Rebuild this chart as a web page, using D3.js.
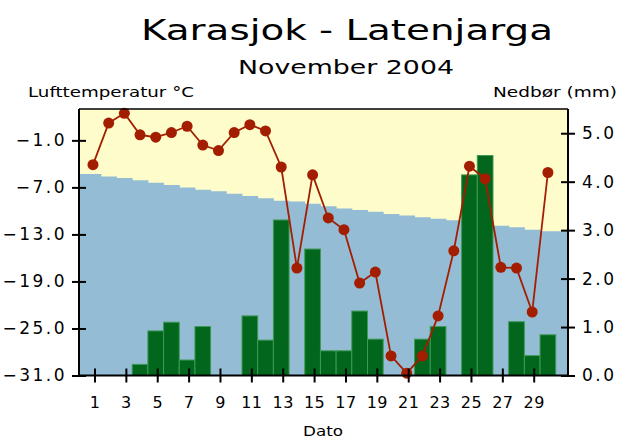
<!DOCTYPE html>
<html>
<head>
<meta charset="utf-8">
<script src="https://cdn.jsdelivr.net/npm/d3@7"></script>
<style>
  body { margin: 0; background: #fff; }
  text { font-family: "DejaVu Sans", Verdana, sans-serif; fill: #000; }
</style>
</head>
<body>
<div id="chart"></div>
<script>
// data
const days = d3.range(1, 31);
const temperature = [-4.1, 1.2, 2.45, -0.3, -0.6, 0.0, 0.8, -1.6, -2.3, 0.0,
                     1.0, 0.2, -4.4, -17.3, -5.4, -10.9, -12.4, -19.2, -17.8, -28.5,
                     -30.7, -28.5, -23.4, -15.1, -4.3, -5.9, -17.2, -17.3, -22.9, -5.1];
const precipitation = [0, 0, 0, 0.23, 0.92, 1.10, 0.32, 1.01, 0, 0,
                       1.23, 0.73, 3.21, 0, 2.61, 0.51, 0.51, 1.33, 0.75, 0,
                       0, 0.75, 1.01, 0, 4.14, 4.54, 0, 1.11, 0.41, 0.84];
const normalTemp = [-5.3, -5.6, -5.8, -6.1, -6.4, -6.7, -7.0, -7.3, -7.5, -7.8,
                    -8.1, -8.4, -8.7, -8.8, -9.1, -9.4, -9.7, -9.9, -10.1, -10.4,
                    -10.6, -10.8, -11.0, -11.2, -11.4, -11.7, -11.9, -12.1, -12.4, -12.6];
const tempTicks = [-31, -25, -19, -13, -7, -1];
const precTicks = [0, 1, 2, 3, 4, 5];
const dayTicks = [1, 3, 5, 7, 9, 11, 13, 15, 17, 19, 21, 23, 25, 27, 29];

const width = 625, height = 438;
const plot = { left: 79, right: 568, top: 109, bottom: 375.5 };

const svg = d3.select("#chart").append("svg").attr("width", width).attr("height", height);

const x = d3.scaleLinear().domain([0, 31.25]).range([77.8, plot.right]);
const yT = d3.scaleLinear().domain([-31, 3]).range([plot.bottom, plot.top]);
const yP = d3.scaleLinear().domain([0, 5.5]).range([plot.bottom, plot.top]);

// background
svg.append("rect")
    .attr("x", plot.left).attr("y", plot.top)
    .attr("width", plot.right - plot.left).attr("height", plot.bottom - plot.top)
    .attr("fill", "#fffccc");

// normal temperature area (stepped)
const normalPts = [[x.domain()[0], normalTemp[0]]]
    .concat(days.map((d, i) => [d, normalTemp[i]]))
    .concat([[x.domain()[1], normalTemp[normalTemp.length - 1]]]);
svg.append("path")
    .datum(normalPts)
    .attr("fill", "#95bcd5")
    .attr("d", d3.area().curve(d3.curveStep)
        .x(d => Math.max(plot.left, x(d[0])))
        .y0(plot.bottom)
        .y1(d => yT(d[1])));

// precipitation bars
const barW = 15.7;
svg.append("g").selectAll("rect")
    .data(days.map((d, i) => ({ day: d, v: precipitation[i] })).filter(d => d.v > 0))
    .join("rect")
    .attr("x", d => x(d.day) - barW / 2 - 0.5)
    .attr("y", d => yP(d.v))
    .attr("width", barW)
    .attr("height", d => plot.bottom - yP(d.v))
    .attr("fill", "#02661c")
    .attr("stroke", "#3f9a55")
    .attr("stroke-width", 1);

// temperature line
const tData = days.map((d, i) => ({ day: d, v: temperature[i] }));
svg.append("path")
    .datum(tData)
    .attr("fill", "none")
    .attr("stroke", "#a31e00")
    .attr("stroke-width", 1.8)
    .attr("d", d3.line().x(d => x(d.day) - 0.5).y(d => yT(d.v)));
svg.append("g").selectAll("circle")
    .data(tData)
    .join("circle")
    .attr("cx", d => x(d.day) - 0.5)
    .attr("cy", d => yT(d.v))
    .attr("r", 5.5)
    .attr("fill", "#a31e00");

// frame
svg.append("path")
    .attr("d", `M${plot.left},${plot.top}H${plot.right}`)
    .attr("stroke", "#000").attr("stroke-width", 1.5);

// axes
const leftAxis = svg.append("g")
    .attr("transform", `translate(${plot.left},0)`)
    .call(d3.axisLeft(yT).tickValues(tempTicks).tickFormat(d3.format(".1f")).tickSize(7).tickPadding(7));
const rightAxis = svg.append("g")
    .attr("transform", `translate(${plot.right},0)`)
    .call(d3.axisRight(yP).tickValues(precTicks).tickFormat(d3.format(".1f")).tickSize(7).tickPadding(7));
const bottomAxis = svg.append("g")
    .attr("transform", `translate(0,${plot.bottom})`)
    .call(d3.axisBottom(x).tickValues(dayTicks).tickFormat(d3.format("d")).tickSize(7).tickPadding(14));

[leftAxis, rightAxis, bottomAxis].forEach(g => {
    g.select(".domain").attr("stroke", "#000").attr("stroke-width", 2);
    g.selectAll(".tick line").attr("stroke", "#000").attr("stroke-width", 2);
    g.selectAll(".tick text").attr("fill", "#000");
});
leftAxis.select(".domain").attr("d", `M0,${plot.top}V${plot.bottom}`);
rightAxis.select(".domain").attr("d", `M0,${plot.top}V${plot.bottom}`);
bottomAxis.select(".domain").attr("d", `M${plot.left},0H${plot.right}`);
leftAxis.selectAll(".tick line").attr("x1", 7);
rightAxis.selectAll(".tick line").attr("x1", -7);
bottomAxis.selectAll(".tick line").attr("y1", -7).attr("transform", "translate(1,0)");
leftAxis.selectAll(".tick text").style("font-size", "17px").style("letter-spacing", "2.5px").attr("dx", 2);
rightAxis.selectAll(".tick text").style("font-size", "17px").style("letter-spacing", "2.5px");
bottomAxis.selectAll(".tick text").style("font-size", "16px").style("letter-spacing", "0.5px").attr("dx", 1);

// titles
svg.append("text").attr("x", 347).attr("y", 40).attr("text-anchor", "middle")
    .style("font-size", "28px").attr("textLength", 412).attr("lengthAdjust", "spacingAndGlyphs")
    .text("Karasjok - Latenjarga");
svg.append("text").attr("x", 346).attr("y", 74).attr("text-anchor", "middle")
    .style("font-size", "20px").attr("textLength", 216).attr("lengthAdjust", "spacingAndGlyphs")
    .text("November 2004");
svg.append("text").attr("x", 28).attr("y", 97)
    .style("font-size", "14px").attr("textLength", 166).attr("lengthAdjust", "spacingAndGlyphs")
    .text("Lufttemperatur °C");
svg.append("text").attr("x", 617).attr("y", 97).attr("text-anchor", "end")
    .style("font-size", "14px").attr("textLength", 124).attr("lengthAdjust", "spacingAndGlyphs")
    .text("Nedbør (mm)");
svg.append("text").attr("x", 323).attr("y", 436).attr("text-anchor", "middle")
    .style("font-size", "14px").attr("textLength", 40).attr("lengthAdjust", "spacingAndGlyphs")
    .text("Dato");
</script>
</body>
</html>
